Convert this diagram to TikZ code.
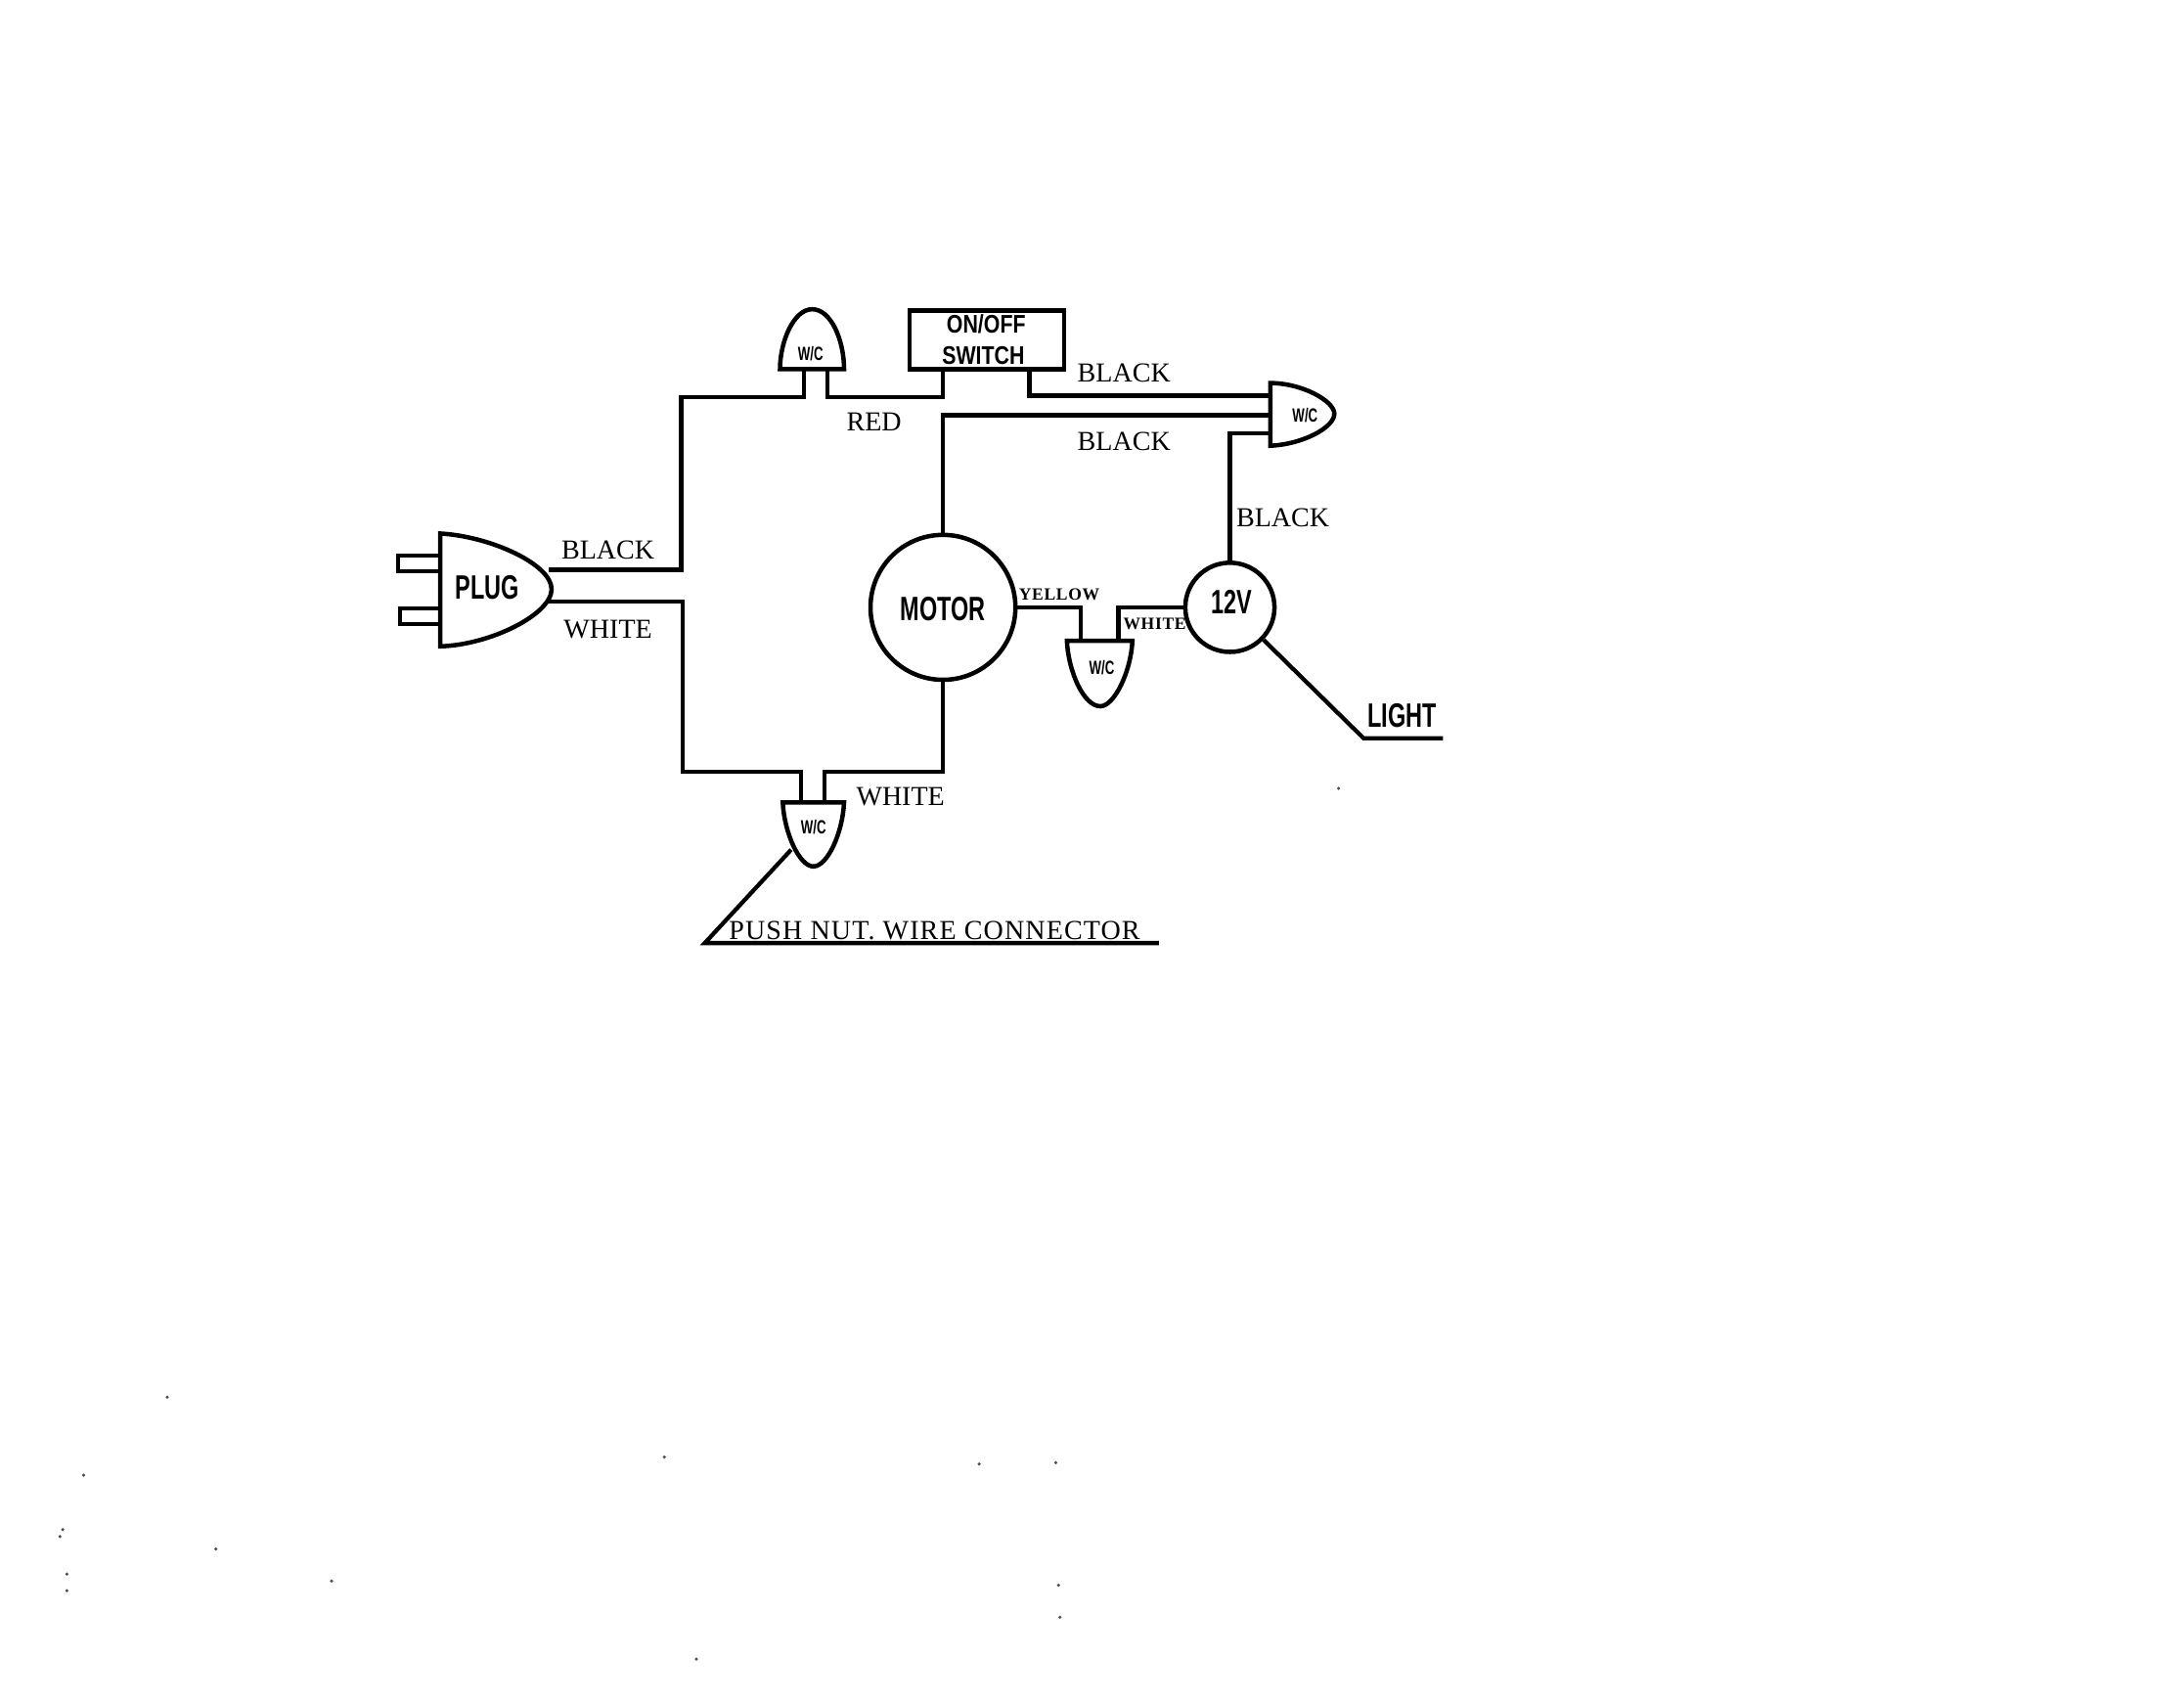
\documentclass[tikz,border=0pt]{standalone}
\usepackage{fontspec}
\setmainfont{Liberation Serif}
\newfontfamily\condsans[FakeStretch=0.68]{Liberation Sans}
\newfontfamily\wideish[FakeStretch=0.82]{Liberation Sans}
\newfontfamily\spaced[LetterSpace=4]{Liberation Serif}
\tikzset{
  x=0.01cm,y=-0.01cm,
  wire/.style={line width=0.85pt,line join=miter},
  part/.style={line width=0.9pt,line join=miter,fill=white},
  lbl/.style={inner sep=0pt,font=\fontsize{5.6pt}{6pt}\selectfont},
  long lbl/.style={inner sep=0pt,font=\fontsize{5.6pt}{6pt}\spaced},
  small lbl/.style={inner sep=0pt,font=\fontsize{3.5pt}{4pt}\spaced\bfseries},
  heavy/.style={inner sep=0pt,font=\fontsize{6.9pt}{7pt}\condsans\bfseries},
  switch text/.style={inner sep=0pt,font=\fontsize{5.2pt}{5pt}\wideish\bfseries},
  wc text/.style={inner sep=0pt,font=\fontsize{3.9pt}{4pt}\condsans\bfseries},
}
\begin{document}
\begin{tikzpicture}
\useasboundingbox (0,0) rectangle (1568,1221);
% anchors on the parts
\coordinate (plugtop) at (394,409);
\coordinate (plugbot) at (394,432);
\coordinate (wcAl) at (577,265);
\coordinate (wcAr) at (594,265);
\coordinate (swl) at (677,265);
\coordinate (swr) at (739,265);
\coordinate (wcBa) at (912,284);
\coordinate (wcBb) at (912,298);
\coordinate (wcBc) at (912,311);
\coordinate (wcCl) at (575,576);
\coordinate (wcCr) at (592,576);
\coordinate (wcDl) at (776,460);
\coordinate (wcDr) at (803,460);
\coordinate (wcClead) at (568,610);
\coordinate (pnl) at (506,677);
\coordinate (pnr) at (832,677);
\coordinate (ltk) at (979,530);
\coordinate (ltr) at (1036,530);
% parts
\node[part,draw,circle,minimum size=1.04cm,inner sep=0pt] (motor) at (677,436) {};
\node[part,draw,circle,minimum size=0.64cm,inner sep=0pt] (lamp) at (883,436) {};
\node[part,draw,rectangle,minimum width=1.11cm,minimum height=0.42cm,inner sep=0pt] (switch) at (708.5,244) {};
% plug
\draw[part] (316,383) .. controls (352,385) and (396,405) .. (396,423) .. controls (396,441) and (352,463) .. (316,464) -- cycle;
\draw[wire] (316,399) -- (286,399) -- (286,410) -- (316,410);
\draw[wire] (316,437) -- (287,437) -- (287,448) -- (316,448);
% wire connectors
\draw[part] (560,265) .. controls (560,245) and (570,222) .. (583,222) .. controls (597,222) and (606,245) .. (606,265) -- cycle;
\draw[part] (912,275) .. controls (935,275) and (958,288) .. (958,297) .. controls (958,307) and (935,319) .. (912,320) -- cycle;
\draw[part] (562,576) .. controls (563,598) and (574,622) .. (584,622) .. controls (594,622) and (605,598) .. (606,576) -- cycle;
\draw[part] (766,460) .. controls (767,482) and (778,507) .. (790,507) .. controls (800,507) and (812,482) .. (813,460) -- cycle;
% wires
\draw[wire] (plugtop) -- (489,409) -- (489,285) -- (577,285) -- (wcAl);
\draw[wire] (wcAr) -- (594,285) -- (677,285) -- (swl);
\draw[wire] (swr) -- (739,284) -- (wcBa);
\draw[wire] (wcBb) -- (677,298) -- (motor.north);
\draw[wire] (motor.south) -- (677,554) -- (592,554) -- (wcCr);
\draw[wire] (plugbot) -- (490,432) -- (490,554) -- (575,554) -- (wcCl);
\draw[wire] (motor.east) -- (776,436) -- (wcDl);
\draw[wire] (wcDr) -- (803,436) -- (lamp.west);
\draw[wire] (lamp.north) -- (883,311) -- (wcBc);
\draw[wire] (lamp.-44) -- (ltk) -- (ltr);
\draw[wire] (wcClead) -- (pnl) -- (pnr);
% labels
\node[lbl] (t1) at (436.5,395) {BLACK};
\node[lbl] (t2) at (436.5,452) {WHITE};
\node[lbl] (t3) at (627.5,303) {RED};
\node[lbl] (t4) at (807,268) {BLACK};
\node[lbl] (t5) at (807,317) {BLACK};
\node[lbl] (t6) at (921,372) {BLACK};
\node[lbl] (t7) at (646.5,572) {WHITE};
\node[small lbl] (t8) at (760.5,427) {YELLOW};
\node[small lbl] (t9) at (829,448) {WHITE};
\node[long lbl] (t10) at (671,668) {PUSH NUT. WIRE CONNECTOR};
\node[heavy] (t11) at (350,422) {PLUG};
\node[heavy] (t12) at (677,437) {MOTOR};
\node[heavy] (t13) at (884,432) {12V};
\node[heavy] (t14) at (1006.5,514) {LIGHT};
\node[switch text] (t15) at (708,233) {ON/OFF};
\node[switch text] (t16) at (706,255) {SWITCH};
\node[wc text] (t17) at (582,254) {W/C};
\node[wc text] (t18) at (937,298) {W/C};
\node[wc text] (t19) at (584,594) {W/C};
\node[wc text] (t20) at (791,479) {W/C};
% scan specks
\foreach \p/\q in {961/566,120/1003,60/1059,45/1098,43/1103,155/1112,48/1130,48/1142,477/1046,703/1051,758/1050,238/1135,760/1138,761/1161,500/1191}
  \fill[black!70] (\p,\q) circle (0.35pt);
\end{tikzpicture}
\end{document}
